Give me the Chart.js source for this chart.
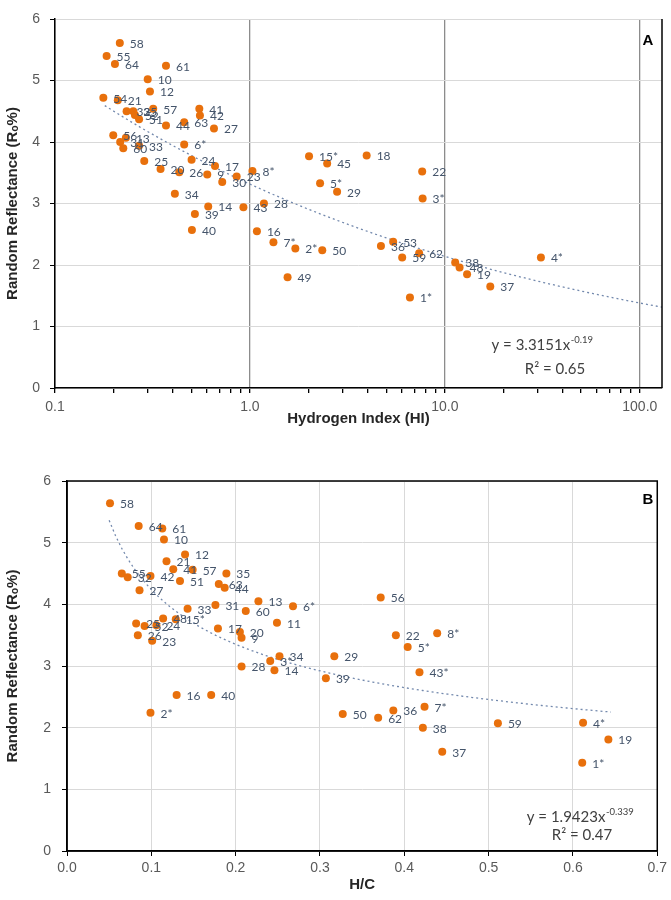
<!DOCTYPE html>
<html>
<head>
<meta charset="utf-8">
<script src="https://cdn.jsdelivr.net/npm/chart.js@4.4.1/dist/chart.umd.min.js"></script>
<style>
  body { margin: 0; background: #fff; width: 671px; height: 900px; position: relative; overflow: hidden; }
  canvas { position: absolute; left: 0; }
  #chartA { top: 0; }
  #chartB { top: 440px; }
</style>
</head>
<body>
<canvas id="chartA" width="671" height="440"></canvas>
<canvas id="chartB" width="671" height="460"></canvas>
<script>
// Panel A: hydrogen index vs random reflectance
const hiLabels = ['58','55','64','61','10','12','54','21','32','35','52','51','57','44','63','41','42','27',
  '56','13','31','60','33','6*','25','20','24','17','26','9','30','23','8*','34','14','39','40','43','28',
  '16','7*','2*','49','15*','45','18','22','5*','29','3*','50','36','53','59','62','38','48','19','37','1*','4*']
const hiValues = [0.215,0.184,0.203,0.371,0.299,0.307,0.177,0.21,0.233,0.252,0.257,0.27,0.319,0.371,0.46,0.55,0.554,0.654,
  0.199,0.231,0.216,0.224,0.27,0.46,0.287,0.348,0.502,0.662,0.434,0.604,0.721,0.855,1.03,0.412,0.611,0.522,0.504,0.926,1.18,
  1.086,1.32,1.71,1.56,2.01,2.49,3.97,7.65,2.29,2.8,7.69,2.35,4.7,5.43,6.04,7.38,11.3,11.9,13.0,17.1,6.62,31.1]
const roA = [5.61,5.40,5.27,5.24,5.02,4.82,4.72,4.68,4.50,4.50,4.44,4.37,4.54,4.27,4.32,4.54,4.43,4.22,
  4.11,4.07,4.00,3.90,3.94,3.96,3.69,3.56,3.71,3.61,3.51,3.47,3.35,3.44,3.53,3.16,2.95,2.83,2.57,2.94,3.00,
  2.55,2.37,2.27,1.80,3.77,3.65,3.78,3.52,3.33,3.19,3.08,2.24,2.31,2.38,2.12,2.19,2.04,1.96,1.85,1.65,1.47,2.12]
const hiTicks = [0.1, 1, 10, 100]
const fitA = [3.3151, -0.19]   // y = a * x^b
const fitARange = [0.18, 130]

// Panel B: H/C vs random reflectance
const hcLabels = ['58','64','61','10','12','21','41','57','55','32','42','51','27','35','63','44',
  '33','31','60','13','6*','11','17','20','9','15*','48','24','25','52','26','23','28','34','3*','14','39','29',
  '16','40','2*','56','22','8*','5*','43*','7*','36','50','62','38','59','4*','19','37','1*']
const hcValues = [0.051,0.085,0.113,0.115,0.14,0.118,0.126,0.149,0.065,0.072,0.099,0.134,0.086,0.189,0.18,0.187,
  0.143,0.176,0.212,0.227,0.268,0.249,0.179,0.205,0.207,0.129,0.114,0.106,0.082,0.092,0.084,0.101,0.207,0.252,0.241,0.246,0.307,0.317,
  0.13,0.171,0.099,0.372,0.39,0.439,0.404,0.418,0.424,0.387,0.327,0.369,0.422,0.511,0.612,0.642,0.445,0.611]
const roB = [5.64,5.27,5.23,5.05,4.81,4.70,4.57,4.56,4.50,4.44,4.46,4.38,4.23,4.50,4.33,4.27,
  3.93,3.99,3.89,4.05,3.97,3.70,3.61,3.55,3.46,3.76,3.77,3.66,3.69,3.65,3.50,3.41,2.99,3.16,3.08,2.93,2.80,3.16,
  2.53,2.53,2.24,4.11,3.50,3.53,3.31,2.90,2.34,2.28,2.22,2.16,2.00,2.07,2.08,1.81,1.61,1.43]
const hcTicks = [0, 0.1, 0.2, 0.3, 0.4, 0.5, 0.6, 0.7]
const fitB = [1.9423, -0.339]
const fitBRange = [0.05, 0.645]

const roTicks = [0, 1, 2, 3, 4, 5, 6]

const ORANGE = '#E8700C'
const LABEL = '#44546A'
const TICKFONT = { family: "'Liberation Sans', Arial, sans-serif", size: 14 }
const TITLEFONT = { family: "'Liberation Sans', Arial, sans-serif", size: 15, weight: 'bold' }

function trend(fit, range, log) {
  const pts = []
  for (let i = 0; i <= 80; i++) {
    const t = i / 80
    const x = log
      ? Math.pow(10, Math.log10(range[0]) + t * (Math.log10(range[1]) - Math.log10(range[0])))
      : range[0] + t * (range[1] - range[0])
    pts.push({ x: x, y: fit[0] * Math.pow(x, fit[1]) })
  }
  return pts
}

// point labels, frame, equation and panel letter
function decorPlugin(labels, opts) {
  return {
    id: 'decor',
    afterDatasetsDraw(chart) {
      const ctx = chart.ctx
      const area = chart.chartArea
      ctx.save()
      ctx.font = '12px Lato'
      ctx.fillStyle = LABEL
      ctx.textBaseline = 'middle'
      ctx.textAlign = 'left'
      chart.getDatasetMeta(0).data.forEach((p, i) => {
        ctx.fillText(labels[i], p.x + 10, p.y + 1)
      })

      ctx.strokeStyle = '#000'
      ctx.lineWidth = 1.5
      if (opts.box) {
        ctx.strokeRect(area.left, area.top, area.right - area.left, area.bottom - area.top)
      } else {
        ctx.beginPath()
        ctx.moveTo(area.right, area.top)
        ctx.lineTo(area.right, area.bottom)
        ctx.stroke()
      }

      // equation
      ctx.fillStyle = '#404040'
      ctx.textBaseline = 'alphabetic'
      ctx.textAlign = 'left'
      ctx.font = '15px Lato'
      const w1 = ctx.measureText(opts.eq[0]).width
      ctx.font = '9.5px Lato'
      const w2 = ctx.measureText(opts.eq[1]).width
      const x0 = opts.eqPos[0] - (w1 + w2) / 2
      ctx.font = '15px Lato'
      ctx.fillText(opts.eq[0], x0, opts.eqPos[1] + 5)
      ctx.font = '9.5px Lato'
      ctx.fillText(opts.eq[1], x0 + w1 + 0.5, opts.eqPos[1] - 2)
      ctx.font = '15px Lato'
      ctx.textAlign = 'center'
      ctx.fillText(opts.r2, opts.r2Pos[0], opts.r2Pos[1] + 5)

      ctx.fillStyle = '#000'
      ctx.font = "bold 15px 'Liberation Sans', Arial, sans-serif"
      ctx.textBaseline = 'middle'
      ctx.fillText(opts.letter, opts.letterPos[0], opts.letterPos[1])
      ctx.restore()
    }
  }
}

const isDecade = v => Math.abs(Math.log10(v) - Math.round(Math.log10(v))) < 1e-9

const hiTickList = []
for (let d = 0; d < hiTicks.length - 1; d++) {
  for (let m = 1; m <= 9; m++) hiTickList.push(hiTicks[d] * m)
}
hiTickList.push(hiTicks[hiTicks.length - 1])

const pointStyle = {
  backgroundColor: ORANGE,
  borderColor: ORANGE,
  borderWidth: 0,
  pointRadius: 4,
  showLine: false
}
const trendStyle = {
  type: 'line',
  borderColor: '#7389AD',
  borderWidth: 1.3,
  borderDash: [2, 3],
  pointRadius: 0,
  fill: false,
  tension: 0
}

new Chart(document.getElementById('chartA'), {
  type: 'scatter',
  data: {
    datasets: [
      Object.assign({ data: hiValues.map((x, i) => ({ x: x, y: roA[i] })) }, pointStyle),
      Object.assign({ data: trend(fitA, fitARange, true) }, trendStyle)
    ]
  },
  options: {
    responsive: false,
    animation: false,
    events: [],
    layout: { padding: { left: 0, right: 9, top: 19, bottom: 0 } },
    plugins: { legend: { display: false }, tooltip: { enabled: false } },
    scales: {
      x: {
        type: 'logarithmic',
        min: 0.1,
        max: 130,
        afterBuildTicks: s => { s.ticks = hiTickList.map(v => ({ value: v })) },
        afterFit: s => { s.height = 52 },
        ticks: {
          autoSkip: false,
          maxRotation: 0,
          padding: 6,
          color: '#595959',
          font: TICKFONT,
          callback: v => isDecade(v) ? v.toFixed(1) : ''
        },
        grid: {
          color: c => (c.tick && isDecade(c.tick.value)) ? '#8C8C8C' : 'rgba(0,0,0,0)',
          lineWidth: 1.3,
          tickColor: '#000',
          tickLength: 5
        },
        border: { color: '#000', width: 1.5 },
        title: { display: true, text: 'Hydrogen Index (HI)', color: '#262626', font: TITLEFONT, padding: { top: 0, bottom: 12 } }
      },
      y: {
        min: 0,
        max: 6,
        afterBuildTicks: s => { s.ticks = roTicks.map(v => ({ value: v })) },
        afterFit: s => { s.width = 55 },
        ticks: { padding: 10, color: '#595959', font: TICKFONT },
        grid: { color: '#D9D9D9', lineWidth: 1, tickColor: '#000', tickLength: 5 },
        border: { color: '#000', width: 1.5 },
        title: { display: true, text: 'Random Reflectance (Rₒ%)', color: '#262626', font: TITLEFONT, padding: { top: 4, bottom: 0 } }
      }
    }
  },
  plugins: [decorPlugin(hiLabels, {
    box: false,
    eq: ['y = 3.3151x', '-0.19'], eqPos: [542, 345],
    r2: 'R² = 0.65', r2Pos: [555, 369],
    letter: 'A', letterPos: [648, 41]
  })]
})

new Chart(document.getElementById('chartB'), {
  type: 'scatter',
  data: {
    datasets: [
      Object.assign({ data: hcValues.map((x, i) => ({ x: x, y: roB[i] })) }, pointStyle),
      Object.assign({ data: trend(fitB, fitBRange, false) }, trendStyle)
    ]
  },
  options: {
    responsive: false,
    animation: false,
    events: [],
    layout: { padding: { left: 0, right: 12, top: 41, bottom: 0 } },
    plugins: { legend: { display: false }, tooltip: { enabled: false } },
    scales: {
      x: {
        type: 'linear',
        min: 0,
        max: 0.7,
        afterBuildTicks: s => { s.ticks = hcTicks.map(v => ({ value: v })) },
        afterFit: s => { s.height = 49 },
        ticks: { autoSkip: false, maxRotation: 0, padding: 4, color: '#595959', font: TICKFONT, callback: v => v.toFixed(1) },
        grid: { color: '#D9D9D9', lineWidth: 1, tickColor: '#000', tickLength: 5 },
        border: { color: '#000', width: 1.5 },
        title: { display: true, text: 'H/C', color: '#262626', font: TITLEFONT, padding: { top: 0, bottom: 6 } }
      },
      y: {
        min: 0,
        max: 6,
        afterBuildTicks: s => { s.ticks = roTicks.map(v => ({ value: v })) },
        afterFit: s => { s.width = 67 },
        ticks: { padding: 11, color: '#595959', font: TICKFONT },
        grid: { color: '#D9D9D9', lineWidth: 1, tickColor: '#000', tickLength: 5 },
        border: { color: '#000', width: 1.5 },
        title: { display: true, text: 'Random Reflectance (Rₒ%)', color: '#262626', font: TITLEFONT, padding: { top: 4, bottom: 0 } }
      }
    }
  },
  plugins: [decorPlugin(hcLabels, {
    box: true,
    eq: ['y = 1.9423x', '-0.339'], eqPos: [580, 377],
    r2: 'R² = 0.47', r2Pos: [582, 395],
    letter: 'B', letterPos: [648, 60]
  })]
})
</script>
</body>
</html>
